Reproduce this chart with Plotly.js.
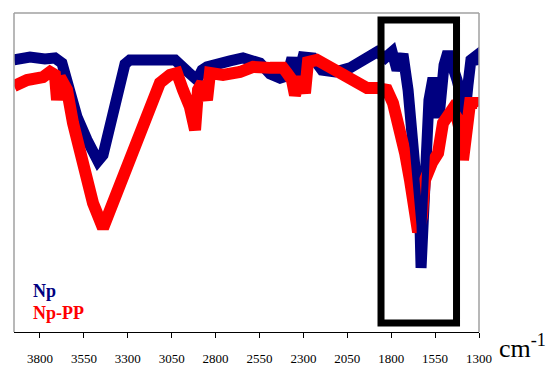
<!DOCTYPE html>
<html>
<head>
<meta charset="utf-8">
<script src="https://cdn.plot.ly/plotly-3.0.1.min.js"></script>
<style>html,body{margin:0;padding:0;background:#fff;}#chart{width:547px;height:366px;}</style>
</head>
<body>
<div id="chart"></div>
<script>
// Wavenumbers (cm-1) and transmittance (arbitrary units)
var npWave = [3948,3857,3772,3715,3675,3629,3589,3532,3498,3470,3441,3401,3373,3344,3316,3288,3174,3100,3031,2957,2906,2877,2849,2718,2644,2547,2490,2433,2393,2365,2336,2302,2245,2194,2120,2035,1949,1881,1835,1795,1767,1733,1704,1682,1664,1647,1636,1630,1619,1613,1596,1585,1562,1539,1528,1516,1499,1477,1454,1425,1397,1380,1363,1346,1311,1300];
var npT    = [85.3,86.2,85.6,85.9,84.3,75.9,67.4,60.2,55.5,53.6,55.5,64.3,71.2,79.0,84.0,85.3,85.0,85.6,85.3,81.5,79.0,82.1,83.1,85.0,85.9,84.3,80.9,79.6,80.3,85.9,79.0,86.2,85.9,82.1,81.5,82.8,85.3,87.8,85.9,87.8,82.1,87.1,75.9,63.3,53.0,41.4,33.5,20.1,32.0,47.6,60.2,72.7,79.6,74.3,67.1,74.3,83.7,87.8,84.3,79.0,72.7,68.0,77.4,85.3,86.8,83.7];

var ppWave = [3948,3874,3783,3743,3715,3703,3686,3646,3612,3572,3532,3498,3441,3384,3327,3270,3231,3174,3117,3060,3020,2986,2946,2917,2900,2877,2849,2832,2758,2661,2587,2490,2416,2393,2365,2348,2331,2314,2291,2274,2223,2166,2109,2052,1995,1938,1881,1824,1790,1750,1721,1693,1664,1647,1625,1608,1568,1533,1505,1477,1454,1425,1403,1391,1374,1351,1311,1300];
var ppT    = [77.1,79.0,79.9,81.5,80.6,72.7,79.9,75.9,65.5,57.1,47.6,40.4,32.6,40.4,47.6,54.9,61.8,70.5,78.1,80.6,81.2,75.9,70.5,63.3,75.9,78.1,72.7,81.2,80.6,81.5,83.1,82.8,82.8,81.2,79.0,74.3,79.0,79.9,74.9,84.6,85.3,83.7,82.1,79.9,78.4,76.5,76.5,75.9,71.8,64.3,56.1,47.6,36.1,31.3,36.1,47.6,53.0,56.1,65.5,68.7,69.6,67.1,61.8,53.9,63.3,71.8,71.8,70.8];

var tickVals = [3800,3550,3300,3050,2800,2550,2300,2050,1800,1550,1300];
var tickText = ["3800","3550","3300","3050","2800","2550","2300","2050","1800","1550","1300"];
var seriesNames = ["Np","Np-PP"];
var seriesColors = ["#000080","#FF0000"];
var boxRange = [1858,1428];
var serif = "Times New Roman, Liberation Serif, serif";

// portion of Np drawn again above Np-PP (inside the highlighted band)
var topIdx = npWave.map(function(w, i){ return (w <= 1710 && w >= 1580) ? i : -1; }).filter(function(i){ return i >= 0; });

var traces = [
  {x: npWave, y: npT, name: seriesNames[0], mode: "lines", line: {color: seriesColors[0], width: 11}},
  {x: ppWave, y: ppT, name: seriesNames[1], mode: "lines", line: {color: seriesColors[1], width: 12}},
  {x: topIdx.map(function(i){return npWave[i];}), y: topIdx.map(function(i){return npT[i];}), mode: "lines", line: {color: seriesColors[0], width: 7}, hoverinfo: "skip"}
];

var layout = {
  width: 547, height: 366,
  margin: {l: 14, r: 68, t: 13, b: 34},
  paper_bgcolor: "#fff", plot_bgcolor: "#fff",
  showlegend: false,
  font: {family: serif, color: "#000"},
  xaxis: {
    range: [3948, 1300], tickvals: tickVals, ticktext: tickText,
    showgrid: false, zeroline: false, showline: true, linecolor: "#000", linewidth: 1,
    ticks: "outside", ticklen: 5, tickcolor: "#000",
    tickfont: {family: serif, size: 13, color: "#000"},
    ticklabelstandoff: 9
  },
  yaxis: {range: [0, 100], showgrid: false, zeroline: false, showticklabels: false, showline: false, ticks: ""},
  shapes: [
    {type: "line", xref: "paper", yref: "paper", x0: 0, x1: 0, y0: 0, y1: 1, line: {color: "#a0a0a0", width: 1.5}},
    {type: "line", xref: "paper", yref: "paper", x0: 0, x1: 1, y0: 1, y1: 1, line: {color: "#a0a0a0", width: 1.5}},
    {type: "line", xref: "paper", yref: "paper", x0: 1, x1: 1, y0: 0, y1: 1, line: {color: "#a0a0a0", width: 1.5}},
    {type: "rect", xref: "x", yref: "paper", x0: boxRange[0], x1: boxRange[1], y0: 0.028, y1: 0.978, line: {color: "#000", width: 7}}
  ],
  annotations: [
    {xref: "paper", yref: "paper", x: 0.037, y: 0.13, xanchor: "left", yanchor: "middle", showarrow: false,
     text: "<b>" + seriesNames[0] + "</b>", font: {family: serif, size: 18, color: seriesColors[0]}},
    {xref: "paper", yref: "paper", x: 0.037, y: 0.06, xanchor: "left", yanchor: "middle", showarrow: false,
     text: "<b>" + seriesNames[1] + "</b>", font: {family: serif, size: 18, color: seriesColors[1]}},
    {xref: "paper", yref: "paper", x: 1.038, y: -0.045, xanchor: "left", yanchor: "middle", showarrow: false,
     text: "cm<sup>-1</sup>", font: {family: serif, size: 26, color: "#000"}}
  ]
};

Plotly.newPlot("chart", traces, layout, {displayModeBar: false, staticPlot: true});
</script>
</body>
</html>
